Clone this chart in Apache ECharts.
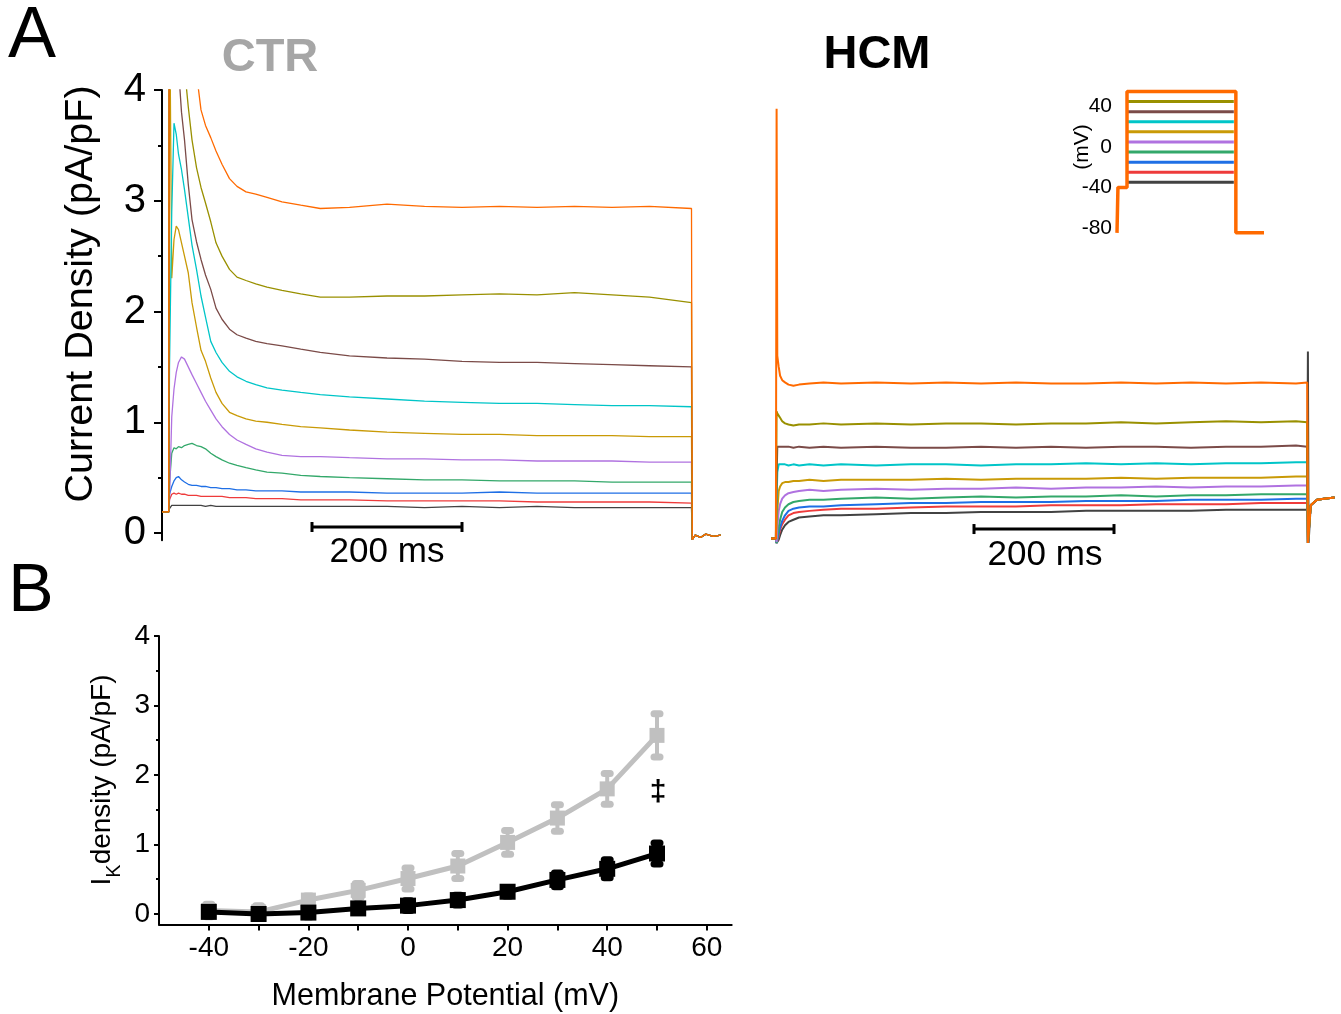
<!DOCTYPE html>
<html>
<head>
<meta charset="utf-8">
<title>IK density CTR vs HCM</title>
<script src="https://cdn.jsdelivr.net/npm/echarts@6/dist/echarts.min.js"></script>
<style>
html,body{margin:0;padding:0;background:#fff}
#chart{width:1341px;height:1014px}
</style>
</head>
<body>
<div id="chart"></div>
<script>
var font = 'Liberation Sans, Arial, sans-serif';

// test pulses, bottom trace to top trace
var stepNames = ['-40', '-30', '-20', '-10', '0', '10', '20', '30', '40', '50'];
var stepColors = ['#424242', '#ee3b3b', '#1f6fe5', '#33a86a', '#b072e0', '#c99a06', '#00c5c8', '#7b4b48', '#999000', '#ff6a00'];

// ---- CTR traces (time ms, pA/pF) ----
var ctrT = [0, 9, 10, 13, 16, 19, 22, 26, 30, 35, 40, 46, 52, 58, 65, 72, 80, 90, 100, 112,
  125, 140, 160, 185, 211, 250, 300, 350, 400, 450, 500, 550, 600, 650, 706, 707, 711, 718, 725, 735, 745];
var ctrTail = [-0.06, -0.02, -0.04, -0.01, -0.03, -0.02];
var ctrM40 = [0.19, 0.19, 0.22, 0.25, 0.25, 0.25, 0.25, 0.25, 0.25, 0.25, 0.25, 0.25, 0.25, 0.24, 0.25, 0.24, 0.24, 0.24, 0.24, 0.24,
  0.24, 0.24, 0.24, 0.24, 0.24, 0.24, 0.24, 0.23, 0.24, 0.23, 0.24, 0.23, 0.23, 0.23, 0.23];
var ctrM30 = [0.19, 0.19, 0.3, 0.35, 0.36, 0.35, 0.36, 0.35, 0.35, 0.34, 0.34, 0.34, 0.33, 0.33, 0.33, 0.33, 0.33, 0.32, 0.32, 0.32,
  0.31, 0.31, 0.31, 0.3, 0.3, 0.3, 0.29, 0.29, 0.29, 0.29, 0.28, 0.28, 0.28, 0.28, 0.27];
var ctrM20 = [0.19, 0.19, 0.35, 0.42, 0.47, 0.5, 0.51, 0.48, 0.46, 0.44, 0.43, 0.43, 0.42, 0.42, 0.41, 0.41, 0.4, 0.4, 0.39, 0.39,
  0.38, 0.38, 0.38, 0.37, 0.37, 0.37, 0.36, 0.36, 0.36, 0.37, 0.36, 0.36, 0.36, 0.36, 0.36];
var ctrM10 = [0.19, 0.19, 0.45, 0.72, 0.77, 0.76, 0.78, 0.77, 0.79, 0.8, 0.81, 0.79, 0.78, 0.76, 0.72, 0.69, 0.66, 0.63, 0.61, 0.59,
  0.57, 0.55, 0.54, 0.52, 0.51, 0.5, 0.49, 0.48, 0.48, 0.47, 0.47, 0.47, 0.46, 0.46, 0.46];
var ctrP0 = [0.19, 0.19, 0.3, 1.05, 1.3, 1.45, 1.54, 1.59, 1.57, 1.5, 1.43, 1.35, 1.27, 1.19, 1.11, 1.03, 0.96, 0.89, 0.84, 0.8,
  0.76, 0.73, 0.7, 0.69, 0.69, 0.68, 0.67, 0.67, 0.66, 0.66, 0.65, 0.65, 0.65, 0.64, 0.64];
var ctrP10 = [0.19, 0.19, 5, 2.3, 2.65, 2.77, 2.74, 2.62, 2.5, 2.35, 2.08, 1.86, 1.65, 1.55, 1.4, 1.27, 1.17, 1.09, 1.06, 1.03,
  1.01, 1.0, 0.98, 0.96, 0.95, 0.93, 0.91, 0.9, 0.89, 0.89, 0.88, 0.88, 0.88, 0.87, 0.87];
var ctrP20 = [0.19, 0.19, 1.5, 2.9, 3.7, 3.6, 3.42, 3.28, 3.1, 2.85, 2.6, 2.38, 2.14, 1.95, 1.73, 1.63, 1.54, 1.46, 1.41, 1.37,
  1.34, 1.31, 1.29, 1.27, 1.25, 1.23, 1.21, 1.19, 1.18, 1.17, 1.17, 1.16, 1.15, 1.15, 1.14];
var ctrP30 = [0.19, 0.19, 7, 6, 5.3, 4.7, 4.2, 3.8, 3.55, 3.15, 2.83, 2.63, 2.47, 2.33, 2.2, 2.03, 1.93, 1.84, 1.79, 1.76,
  1.73, 1.71, 1.69, 1.66, 1.63, 1.6, 1.58, 1.57, 1.55, 1.54, 1.54, 1.53, 1.52, 1.51, 1.5];
var ctrP40 = [0.19, 0.19, 8, 7, 6.3, 5.7, 5.2, 4.7, 4.2, 3.85, 3.55, 3.3, 3.12, 2.98, 2.81, 2.62, 2.5, 2.38, 2.31, 2.28,
  2.25, 2.22, 2.19, 2.16, 2.13, 2.13, 2.14, 2.14, 2.15, 2.16, 2.15, 2.17, 2.15, 2.13, 2.08];
var ctrP50 = [0.19, 0.19, 8, 7.5, 7, 6.6, 6.2, 5.8, 5.4, 5, 4.6, 4.15, 3.82, 3.68, 3.57, 3.45, 3.33, 3.2, 3.13, 3.08,
  3.06, 3.03, 2.99, 2.96, 2.93, 2.94, 2.97, 2.95, 2.94, 2.95, 2.94, 2.95, 2.94, 2.95, 2.93];
var ctrTraces = [ctrM40, ctrM30, ctrM20, ctrM10, ctrP0, ctrP10, ctrP20, ctrP30, ctrP40, ctrP50];

// ---- HCM traces ----
var hcmT = [0, 7, 8, 9, 11, 13, 16, 20, 25, 32, 40, 55, 75, 100, 150, 200, 250, 300, 350, 400,
  450, 500, 550, 600, 650, 700, 750, 766, 767, 768, 771, 780, 790, 805];
var hcmTail = [-0.09, 0.25, 0.3, 0.31, 0.32];
var hcmM40 = [-0.05, -0.05, -0.09, -0.09, -0.06, -0.02, 0.03, 0.07, 0.1, 0.12, 0.14, 0.15, 0.16, 0.16, 0.17, 0.18, 0.18, 0.19, 0.19, 0.19,
  0.2, 0.2, 0.2, 0.2, 0.21, 0.21, 0.21, 0.21, 1.64];
var hcmM30 = [-0.05, -0.05, -0.09, -0.09, -0.03, 0.03, 0.08, 0.12, 0.16, 0.18, 0.19, 0.2, 0.21, 0.22, 0.22, 0.23, 0.24, 0.24, 0.24, 0.25,
  0.25, 0.25, 0.26, 0.26, 0.26, 0.27, 0.27, 0.27, -0.09];
var hcmM20 = [-0.05, -0.05, -0.09, -0.08, 0.0, 0.05, 0.11, 0.16, 0.2, 0.22, 0.23, 0.24, 0.24, 0.25, 0.26, 0.27, 0.27, 0.28, 0.28, 0.28,
  0.29, 0.29, 0.29, 0.3, 0.3, 0.3, 0.31, 0.31, -0.09];
var hcmM10 = [-0.05, -0.05, -0.09, -0.05, 0.05, 0.12, 0.19, 0.23, 0.26, 0.28, 0.29, 0.3, 0.3, 0.31, 0.32, 0.31, 0.32, 0.33, 0.32, 0.33,
  0.33, 0.34, 0.33, 0.34, 0.34, 0.35, 0.35, 0.35, -0.09];
var hcmP0 = [-0.05, -0.05, -0.08, 0.05, 0.2, 0.26, 0.31, 0.34, 0.36, 0.37, 0.38, 0.39, 0.38, 0.39, 0.4, 0.39, 0.4, 0.4, 0.41, 0.4,
  0.41, 0.41, 0.42, 0.41, 0.42, 0.42, 0.43, 0.43, -0.09];
var hcmP10 = [-0.05, -0.05, -0.05, 0.2, 0.38, 0.42, 0.45, 0.46, 0.46, 0.47, 0.47, 0.48, 0.47, 0.48, 0.48, 0.48, 0.49, 0.48, 0.49, 0.49,
  0.49, 0.5, 0.49, 0.5, 0.5, 0.5, 0.51, 0.51, -0.09];
var hcmP20 = [-0.05, -0.05, 0.3, 0.55, 0.62, 0.62, 0.62, 0.62, 0.61, 0.62, 0.61, 0.62, 0.61, 0.62, 0.61, 0.62, 0.62, 0.61, 0.62, 0.62,
  0.63, 0.62, 0.63, 0.62, 0.63, 0.63, 0.64, 0.64, -0.09];
var hcmP30 = [-0.05, -0.05, 0.5, 0.78, 0.78, 0.78, 0.78, 0.78, 0.78, 0.77, 0.78, 0.77, 0.78, 0.77, 0.78, 0.77, 0.77, 0.78, 0.77, 0.78,
  0.77, 0.78, 0.78, 0.77, 0.78, 0.78, 0.79, 0.78, -0.09];
var hcmP40 = [-0.05, -0.05, 1.1, 1.08, 1.06, 1.04, 1.01, 0.99, 0.98, 0.97, 0.98, 0.98, 0.99, 0.98, 0.99, 0.98, 0.99, 0.99, 0.98, 0.99,
  0.99, 1.0, 0.99, 1.0, 1.01, 1.0, 1.01, 1.0, -0.09];
var hcmP50 = [-0.05, -0.05, 3.83, 1.6, 1.5, 1.42, 1.38, 1.36, 1.34, 1.33, 1.34, 1.35, 1.36, 1.35, 1.36, 1.35, 1.36, 1.35, 1.36, 1.35,
  1.35, 1.36, 1.35, 1.36, 1.35, 1.36, 1.35, 1.36, -0.09];
var hcmTraces = [hcmM40, hcmM30, hcmM20, hcmM10, hcmP0, hcmP10, hcmP20, hcmP30, hcmP40, hcmP50];

// scale bars (200 ms)
var ctrBarT = [200, 400], ctrBarY = 0.054;
var hcmBarT = [290, 490], hcmBarY = 0.036;

// ---- voltage protocol inset (mV) ----
var insetHoldT = [0, 6, 6, 64, 64, 760, 760, 940];
var insetHoldV = [-85, -85, -40, -40, 55, 55, -85, -85];
var insetStepT = [70, 747];
var insetStepV = [-35, -25, -15, -5, 5, 15, 25, 35, 45];
var insetTicks = [-80, -40, 0, 40];

// ---- panel B: I-V ----
var bX = [-40, -30, -20, -10, 0, 10, 20, 30, 40, 50];
var ctrMean = [0.05, 0.03, 0.2, 0.34, 0.51, 0.69, 1.03, 1.38, 1.8, 2.57];
var ctrErr = [0.09, 0.09, 0.06, 0.1, 0.15, 0.18, 0.17, 0.19, 0.22, 0.31];
var hcmMean = [0.03, 0.0, 0.02, 0.08, 0.12, 0.2, 0.32, 0.49, 0.65, 0.87];
var hcmErr = [0.06, 0.06, 0.06, 0.06, 0.07, 0.07, 0.06, 0.1, 0.13, 0.15];
var bXLabels = [-40, -20, 0, 20, 40, 60];
var bXTicks = [-40, -30, -20, -10, 0, 10, 20, 30, 40, 50, 60];
var bYLabels = [0, 1, 2, 3, 4];
var bYMinor = [0.5, 1.5, 2.5, 3.5];

function pts(t, v) {
  return v.map(function (y, i) { return [t[i], y]; });
}

function errBar(color) {
  return function (params, api) {
    var x = api.value(0), m = api.value(1), e = api.value(2);
    var top = api.coord([x, m + e]), bot = api.coord([x, m - e]);
    var cap = function (p) {
      return {type: 'line', shape: {x1: p[0] - 3, y1: p[1], x2: p[0] + 3, y2: p[1]},
        style: {stroke: color, lineWidth: 7, lineCap: 'round'}};
    };
    return {type: 'group', children: [
      {type: 'line', shape: {x1: top[0], y1: top[1], x2: bot[0], y2: bot[1]}, style: {stroke: color, lineWidth: 4}},
      cap(top), cap(bot)
    ]};
  };
}

var series = [];
stepNames.forEach(function (name, i) {
  series.push({
    name: 'CTR ' + name, type: 'line', xAxisIndex: 0, yAxisIndex: 0,
    data: pts(ctrT, ctrTraces[i].concat(ctrTail)),
    symbol: 'none', lineStyle: {color: stepColors[i], width: 1.3}, itemStyle: {color: stepColors[i]}
  });
});
stepNames.forEach(function (name, i) {
  series.push({
    name: 'HCM ' + name, type: 'line', xAxisIndex: 1, yAxisIndex: 2,
    data: pts(hcmT, hcmTraces[i].concat(hcmTail)),
    symbol: 'none', lineStyle: {color: stepColors[i], width: 2}, itemStyle: {color: stepColors[i]}
  });
});
series.push({
  type: 'line', xAxisIndex: 0, yAxisIndex: 0, data: [[ctrBarT[0], ctrBarY], [ctrBarT[1], ctrBarY]],
  symbol: 'rect', symbolSize: [3, 10], lineStyle: {color: '#000', width: 3}, itemStyle: {color: '#000'}
});
series.push({
  type: 'line', xAxisIndex: 1, yAxisIndex: 2, data: [[hcmBarT[0], hcmBarY], [hcmBarT[1], hcmBarY]],
  symbol: 'rect', symbolSize: [3, 10], lineStyle: {color: '#000', width: 3}, itemStyle: {color: '#000'}
});
insetStepV.forEach(function (v, i) {
  series.push({
    type: 'line', xAxisIndex: 2, yAxisIndex: 3, data: [[insetStepT[0], v], [insetStepT[1], v]],
    symbol: 'none', lineStyle: {color: stepColors[i], width: 3}
  });
});
series.push({
  type: 'line', xAxisIndex: 2, yAxisIndex: 3, data: pts(insetHoldT, insetHoldV),
  symbol: 'none', lineStyle: {color: stepColors[9], width: 3.5}
});

series.push({
  type: 'custom', xAxisIndex: 3, yAxisIndex: 4, z: 2, encode: {x: 0, y: 1},
  data: bX.map(function (x, i) { return [x, ctrMean[i], ctrErr[i]]; }), renderItem: errBar('#c0c0c0')
});
series.push({
  name: 'CTR', type: 'line', xAxisIndex: 3, yAxisIndex: 4, z: 3, data: pts(bX, ctrMean),
  symbol: 'rect', symbolSize: 15, lineStyle: {color: '#c0c0c0', width: 5}, itemStyle: {color: '#c0c0c0'}
});
series.push({
  type: 'custom', xAxisIndex: 3, yAxisIndex: 4, z: 4, encode: {x: 0, y: 1},
  data: bX.map(function (x, i) { return [x, hcmMean[i], hcmErr[i]]; }), renderItem: errBar('#000')
});
series.push({
  name: 'HCM', type: 'line', xAxisIndex: 3, yAxisIndex: 4, z: 5, data: pts(bX, hcmMean),
  symbol: 'rect', symbolSize: 16, lineStyle: {color: '#000', width: 5}, itemStyle: {color: '#000'}
});

var black = {color: '#000', width: 2};
var chart = echarts.init(document.getElementById('chart'));
chart.setOption({
  animation: false,
  textStyle: {fontFamily: font},
  grid: [
    {left: 162, top: 90, width: 562.5, height: 450.2},
    {left: 771, top: 90, width: 567, height: 454.1},
    {left: 1117, top: 86.4, width: 147, height: 151.5},
    {left: 159, top: 636, width: 572.7, height: 288.4}
  ],
  xAxis: [
    {gridIndex: 0, type: 'value', min: 0, max: 750, show: false},
    {gridIndex: 1, type: 'value', min: 0, max: 810, show: false},
    {gridIndex: 2, type: 'value', min: 0, max: 940, show: false},
    {gridIndex: 3, type: 'value', min: -50, max: 65,
      axisLine: {onZero: false, lineStyle: black},
      axisTick: {customValues: bXTicks, length: 6, lineStyle: black},
      axisLabel: {customValues: bXLabels, fontSize: 28, color: '#000', margin: 10, fontFamily: font},
      splitLine: {show: false},
      name: 'Membrane Potential (mV)', nameLocation: 'middle', nameGap: 57,
      nameTextStyle: {fontSize: 30.5, color: '#000', fontFamily: font}}
  ],
  yAxis: [
    {gridIndex: 0, type: 'value', position: 'left', min: -0.065, max: 4,
      axisLine: {onZero: false, lineStyle: black},
      axisTick: {customValues: [0, 1, 2, 3, 4], length: 8, lineStyle: black},
      axisLabel: {customValues: [0, 1, 2, 3, 4], fontSize: 40, color: '#000', margin: 16, fontFamily: font},
      splitLine: {show: false}},
    {gridIndex: 0, type: 'value', position: 'left', min: -0.065, max: 4,
      axisLine: {show: false, onZero: false},
      axisTick: {customValues: [0.5, 1.5, 2.5, 3.5], length: 4, lineStyle: black},
      axisLabel: {show: false}, splitLine: {show: false}},
    {gridIndex: 1, type: 'value', min: -0.1, max: 4, show: false},
    {gridIndex: 2, type: 'value', min: -90, max: 60,
      axisLine: {show: false, onZero: false}, axisTick: {show: false},
      axisLabel: {customValues: insetTicks, fontSize: 21, color: '#000', margin: 5, fontFamily: font},
      splitLine: {show: false}},
    {gridIndex: 3, type: 'value', position: 'left', min: -0.15, max: 4,
      axisLine: {onZero: false, lineStyle: black},
      axisTick: {customValues: bYLabels, length: 5, lineStyle: black},
      axisLabel: {customValues: bYLabels, fontSize: 28, color: '#000', margin: 9, fontFamily: font},
      splitLine: {show: false}},
    {gridIndex: 3, type: 'value', position: 'left', min: -0.15, max: 4,
      axisLine: {show: false, onZero: false},
      axisTick: {customValues: bYMinor, length: 3, lineStyle: black},
      axisLabel: {show: false}, splitLine: {show: false}}
  ],
  graphic: [
    {type: 'text', x: 32, y: 37, style: {text: 'A', fontSize: 72, fontFamily: font, fill: '#000', align: 'center', verticalAlign: 'middle'}},
    {type: 'text', x: 31, y: 592, style: {text: 'B', fontSize: 68, fontFamily: font, fill: '#000', align: 'center', verticalAlign: 'middle'}},
    {type: 'text', x: 270, y: 58, style: {text: 'CTR', fontSize: 47, fontWeight: 'bold', fontFamily: font, fill: '#a6a6a6', align: 'center', verticalAlign: 'middle'}},
    {type: 'text', x: 877, y: 55, style: {text: 'HCM', fontSize: 47, fontWeight: 'bold', fontFamily: font, fill: '#000', align: 'center', verticalAlign: 'middle'}},
    {type: 'text', x: 387, y: 552, style: {text: '200 ms', fontSize: 35, fontFamily: font, fill: '#000', align: 'center', verticalAlign: 'middle'}},
    {type: 'text', x: 1045, y: 555, style: {text: '200 ms', fontSize: 35, fontFamily: font, fill: '#000', align: 'center', verticalAlign: 'middle'}},
    {type: 'text', x: 1082, y: 147, rotation: Math.PI / 2, style: {text: '(mV)', fontSize: 21, fontFamily: font, fill: '#000', align: 'center', verticalAlign: 'middle'}},
    {type: 'text', x: 81, y: 294, rotation: Math.PI / 2, style: {text: 'Current Density (pA/pF)', fontSize: 39.5, fontFamily: font, fill: '#000', align: 'center', verticalAlign: 'middle'}},
    {type: 'text', x: 102, y: 780, rotation: Math.PI / 2, style: {
      text: '{a|I}{b|K}{a|density (pA/pF)}', align: 'center', verticalAlign: 'middle',
      rich: {
        a: {fontSize: 28, fontFamily: font, fill: '#000', lineHeight: 44, verticalAlign: 'middle'},
        b: {fontSize: 20, fontFamily: font, fill: '#000', lineHeight: 44, verticalAlign: 'bottom'}
      }}},
    {type: 'text', x: 658, y: 793, style: {text: '\u2021', fontSize: 30, fontWeight: 'bold', fontFamily: font, fill: '#000', align: 'center', verticalAlign: 'middle'}}
  ],
  series: series
});
</script>
</body>
</html>
